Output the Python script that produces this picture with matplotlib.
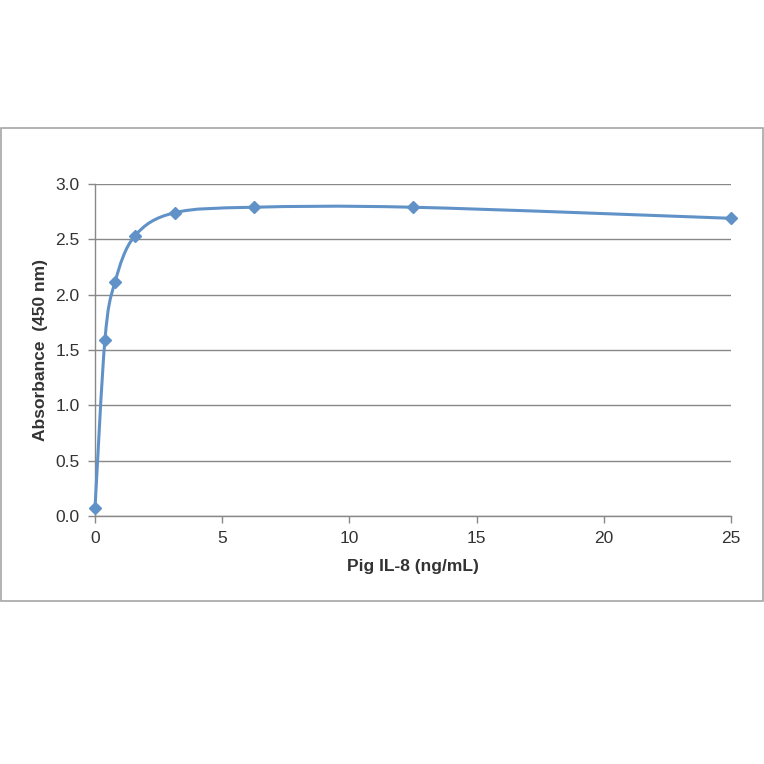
import numpy as np
import matplotlib.pyplot as plt
from matplotlib.path import Path
from matplotlib.patches import PathPatch, Rectangle

conc = [0, 0.39, 0.78, 1.5625, 3.125, 6.25, 12.5, 25]
absorb = [0.07, 1.59, 2.11, 2.53, 2.74, 2.79, 2.79, 2.69]
xticks = [0, 5, 10, 15, 20, 25]
yticks = [0.0, 0.5, 1.0, 1.5, 2.0, 2.5, 3.0]

plt.rcParams['font.family'] = ['Liberation Sans', 'DejaVu Sans']

blue = '#6092c8'
grey = '#888888'

fig = plt.figure(figsize=(7.64, 7.64), dpi=100)
fig.patches.append(Rectangle((1/764, 1 - 601/764), 762/764, 473/764, transform=fig.transFigure,
                             fill=False, edgecolor='#a6a6a6', linewidth=1.2))
ax = fig.add_axes([95/764, 1 - 516/764, 636/764, 332/764])

# smoothed line like excel: bezier segments through the points (catmull-rom)
P = np.column_stack([conc, absorb])
n = len(P)
verts = [P[0]]
codes = [Path.MOVETO]
for i in range(n - 1):
    p0 = P[i - 1] if i > 0 else P[i]
    p3 = P[i + 2] if i + 2 < n else P[i + 1]
    c1 = P[i] + (P[i + 1] - p0) / 6
    c2 = P[i + 1] - (p3 - P[i]) / 6
    verts += [c1, c2, P[i + 1]]
    codes += [Path.CURVE4] * 3
ax.add_patch(PathPatch(Path(verts, codes), facecolor='none', edgecolor=blue, linewidth=2.2,
                       zorder=3, clip_on=False))
ax.plot(conc, absorb, linestyle='none', marker='D', markersize=6.5, color=blue, zorder=4, clip_on=False)

ax.set_xlim(0, 25)
ax.set_ylim(0, 3.0)
ax.set_xticks(xticks)
ax.set_yticks(yticks)
ax.set_yticklabels(['%.1f' % v for v in yticks])
ax.grid(axis='y', color=grey, linewidth=1)
ax.set_axisbelow(True)
for s in ['top', 'right']:
    ax.spines[s].set_visible(False)
for s in ['left', 'bottom']:
    ax.spines[s].set_color(grey)
    ax.spines[s].set_linewidth(1)
ax.tick_params(axis='both', direction='out', color=grey, length=5, width=1,
               labelsize=12.5, labelcolor='#333333')
ax.tick_params(axis='y', pad=6)
ax.tick_params(axis='x', pad=6)
ax.set_xlabel('Pig IL-8 (ng/mL)', fontsize=12.5, fontweight='bold', color='#333333', labelpad=9)
ax.set_ylabel('Absorbance  (450 nm)', fontsize=12.5, fontweight='bold', color='#333333', labelpad=5)

fig.savefig('out.png', dpi=100)
